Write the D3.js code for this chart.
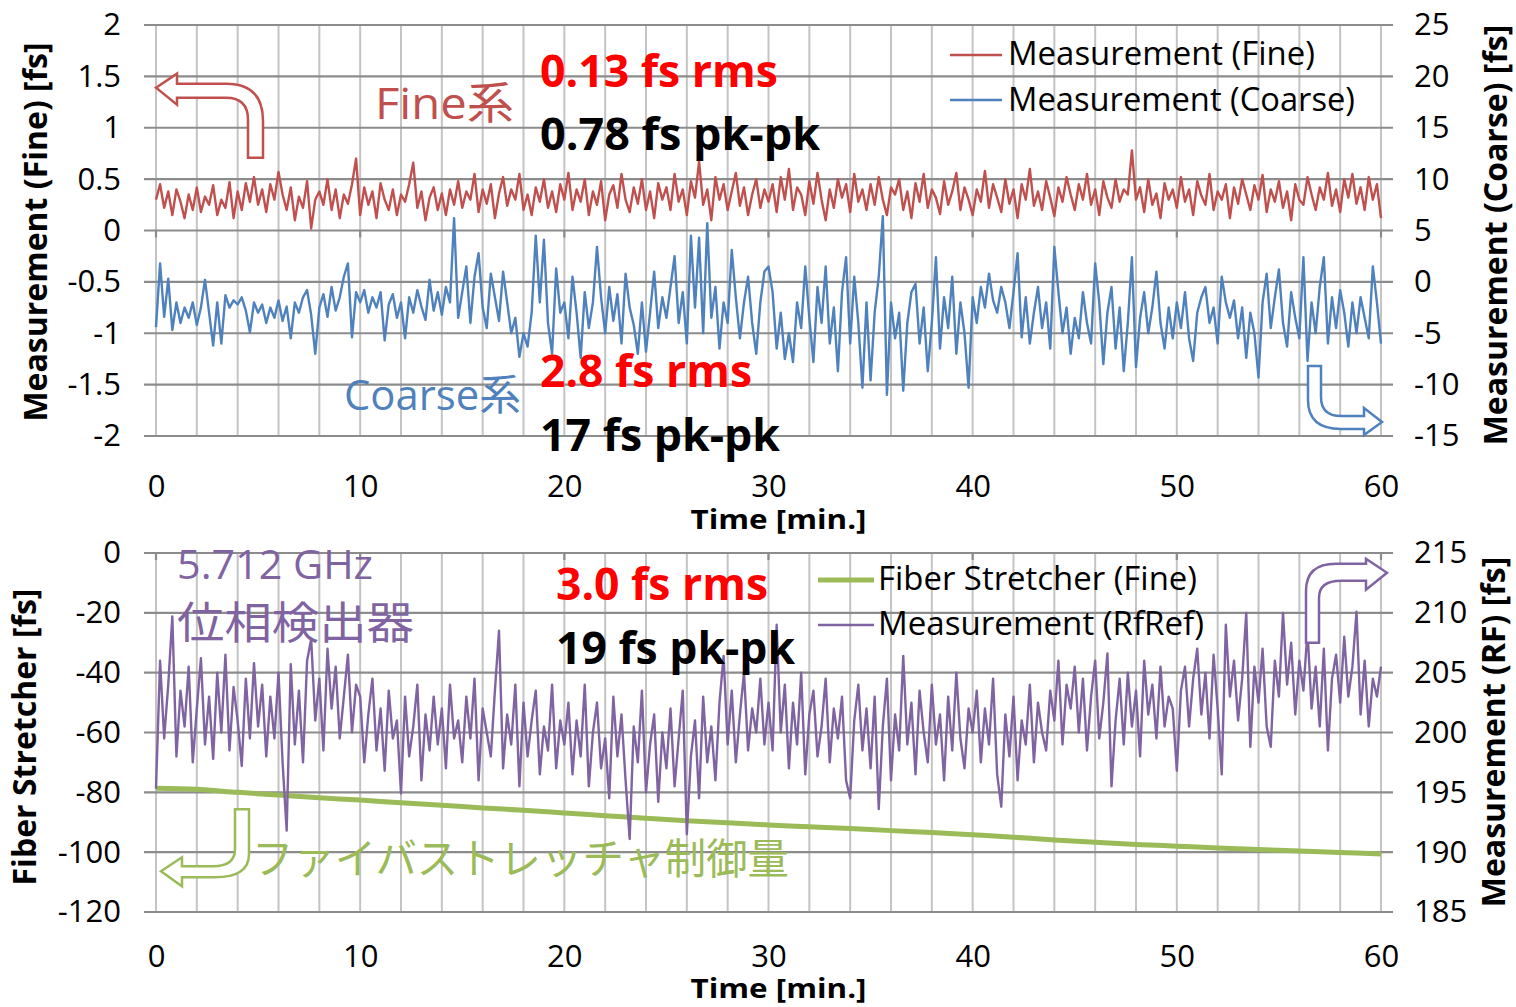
<!DOCTYPE html>
<html><head><meta charset="utf-8">
<script src="https://cdn.jsdelivr.net/npm/d3@7"></script>
<style>
html,body{margin:0;padding:0;background:#fff;}
svg{display:block;}
text{font-family:"Open Sans","Noto Sans CJK JP",sans-serif;}
.jp{font-family:"Noto Sans CJK JP","Open Sans",sans-serif;}
</style></head><body>
<svg id="c" width="1516" height="1007"></svg>
<script>
// ---------- data ----------
const timeTicks = [0,10,20,30,40,50,60];
const fineTicks = [2,1.5,1,0.5,0,-0.5,-1,-1.5,-2];
const coarseTicks = [25,20,15,10,5,0,-5,-10,-15];
const stretcherTicks = [0,-20,-40,-60,-80,-100,-120];
const rfTicks = [215,210,205,200,195,190,185];
const sampleStep = 0.2; // minutes between samples

const fine = [
0.30,0.45,0.22,0.38,0.15,0.40,0.28,0.12,0.35,0.20,0.42,0.18,0.33,0.25,0.44,0.15,0.30,0.22,0.47,0.12,0.38,0.20,0.46,0.28,0.52,
0.25,0.40,0.18,0.45,0.30,0.57,0.35,0.20,0.42,0.10,0.33,0.22,0.48,0.02,0.30,0.38,0.25,0.50,0.20,0.40,0.12,0.35,0.26,0.45,0.70,
0.15,0.42,0.25,0.38,0.12,0.46,0.30,0.20,0.40,0.15,0.35,0.28,0.45,0.66,0.22,0.38,0.10,0.32,0.42,0.20,0.36,0.15,0.40,0.25,0.48,
0.22,0.38,0.30,0.55,0.18,0.40,0.26,0.45,0.12,0.36,0.52,0.24,0.40,0.30,0.55,0.20,0.35,0.15,0.42,0.28,0.50,0.22,0.38,0.18,0.45,
0.30,0.56,0.20,0.40,0.28,0.50,0.15,0.38,0.25,0.48,0.10,0.35,0.44,0.22,0.55,0.30,0.18,0.42,0.26,0.50,0.20,0.38,0.12,0.46,0.30,
0.42,0.20,0.55,0.28,0.40,0.15,0.48,0.32,0.67,0.25,0.40,0.10,0.52,0.30,0.45,0.20,0.38,0.56,0.24,0.42,0.15,0.35,0.50,0.22,0.40,
0.28,0.45,0.18,0.52,0.30,0.60,0.20,0.42,0.35,0.15,0.48,0.26,0.56,0.30,0.10,0.40,0.22,0.50,0.32,0.45,0.18,0.55,0.28,0.40,0.20,
0.45,0.25,0.52,0.30,0.15,0.42,0.35,0.50,0.20,0.38,0.12,0.46,0.28,0.55,0.22,0.40,0.32,0.16,0.48,0.25,0.38,0.56,0.20,0.42,0.30,
0.15,0.40,0.28,0.58,0.22,0.45,0.32,0.18,0.50,0.26,0.40,0.12,0.45,0.30,0.60,0.24,0.38,0.20,0.48,0.32,0.14,0.42,0.28,0.52,0.35,
0.20,0.45,0.30,0.55,0.25,0.40,0.15,0.48,0.32,0.22,0.50,0.28,0.40,0.35,0.78,0.30,0.42,0.18,0.50,0.25,0.36,0.12,0.46,0.30,0.40,
0.22,0.52,0.28,0.40,0.15,0.48,0.34,0.25,0.55,0.20,0.38,0.30,0.45,0.12,0.42,0.26,0.50,0.35,0.20,0.44,0.30,0.54,0.18,0.40,0.28,
0.48,0.22,0.38,0.10,0.45,0.30,0.25,0.52,0.35,0.20,0.42,0.30,0.56,0.24,0.40,0.18,0.50,0.32,0.55,0.26,0.42,0.20,0.52,0.30,0.45,
0.12];

const coarse = [
-4.4,1.8,-3.4,0.3,-4.7,-2.0,-4.0,-2.5,-3.5,-2.0,-4.2,-2.5,0.2,-3.0,-6.2,-2.0,-6.0,-1.3,-2.5,-1.8,-2.2,-1.5,-2.8,-4.9,-2.0,
-3.0,-2.2,-4.0,-2.5,-3.5,-1.8,-3.8,-2.4,-5.5,-2.0,-3.0,-1.5,-0.8,-3.2,-7.0,-2.5,-1.2,-3.4,-0.5,-2.8,-1.5,0.5,1.8,-5.4,-1.0,
-2.0,-0.8,-3.0,-1.5,-2.5,-1.0,-5.7,-2.2,-1.2,-3.5,-2.0,-5.5,-1.5,-3.0,-0.8,-2.4,-3.7,0.2,-2.8,-1.0,-3.2,-0.5,-2.0,6.2,-3.5,
-1.0,1.5,-4.0,0.5,2.8,-2.5,-4.5,0.8,-1.5,-3.8,1.0,-2.0,-5.0,-3.5,-7.3,-5.0,-6.3,-3.0,4.5,-2.0,4.1,-4.0,-7.0,1.3,-3.0,
-2.0,-5.5,0.5,-3.0,-7.4,-1.0,-4.5,-2.0,3.4,-1.5,-5.0,-0.5,-3.8,-1.2,-6.0,0.8,-2.5,-4.2,-7.0,-2.0,-6.8,-3.0,1.0,-4.5,-1.5,
-3.5,-0.5,2.5,-4.0,-1.0,-6.0,4.5,-2.5,4.3,-5.0,5.7,-3.5,-0.5,-6.5,-2.0,-4.0,3.1,-1.5,-5.5,-2.0,0.5,-4.0,-7.0,-2.0,1.0,
1.5,-1.0,-6.5,-3.0,-7.5,-5.0,-7.8,-2.0,-4.5,1.5,-3.5,-7.8,-0.5,-4.0,1.5,-6.0,-2.5,-8.7,-1.0,2.4,-6.0,0.5,-4.0,-10.3,-2.0,
-9.6,-3.0,0.5,6.4,-11.0,-2.0,-5.5,-3.0,-10.6,-4.0,-1.0,-0.2,-6.0,-2.5,-8.7,-4.0,2.4,-6.5,-1.5,-4.5,0.5,-7.0,-2.0,-5.0,-10.3,
-1.5,-4.0,-0.5,-2.5,0.8,-1.8,-3.0,-0.5,-2.0,-4.5,-1.0,2.8,-5.4,-1.5,-6.0,-3.0,-0.5,-4.5,-2.0,-6.5,3.4,-1.0,-5.0,-2.5,-7.0,
-3.5,-5.5,-1.0,-4.0,-6.0,1.8,-2.0,-8.0,-3.0,-0.5,-6.5,-2.5,-8.7,-4.0,2.4,-8.3,-3.5,-1.0,-5.0,-2.5,1.0,-4.0,-6.5,-2.5,-5.5,
-2.0,-4.5,-1.0,-5.5,-7.7,-3.0,-1.5,-0.5,-4.0,-2.5,-6.0,0.5,-2.0,-3.5,-1.8,-5.5,-2.5,-7.4,-3.0,-5.0,-9.3,-2.0,0.8,-4.5,-1.5,
1.2,-4.0,-6.3,-1.0,-3.5,-5.5,2.4,-7.7,-2.0,-5.0,-0.5,2.4,-6.0,-1.5,-4.5,-0.8,-3.0,-6.3,-2.0,-5.0,-1.5,-3.5,-5.5,1.5,-2.0,
-6.0];

const rfRef = [
195.3,206.0,199.5,204.0,209.7,198.0,203.5,200.5,205.5,197.5,202.0,206.2,199.0,203.0,197.8,205.0,200.0,206.5,198.5,203.8,201.0,197.2,204.5,199.5,205.8,
200.5,204.0,198.0,203.0,199.5,205.0,197.5,191.8,205.7,199.0,203.5,197.5,206.0,207.8,201.0,204.5,198.5,207.0,202.0,205.5,199.5,203.0,206.5,200.0,204.0,
203.0,197.5,201.5,204.5,198.5,202.0,196.8,203.5,199.5,201.0,194.9,203.0,198.0,200.5,204.0,196.0,201.5,198.5,203.0,199.0,202.0,197.0,204.0,199.5,201.0,
197.5,203.0,199.5,204.5,196.0,202.0,200.0,198.0,203.5,208.5,197.0,201.5,199.0,204.0,195.5,202.5,198.0,201.0,203.5,196.5,200.5,198.5,204.0,197.0,201.0,
199.0,202.5,196.5,201.0,198.0,204.0,195.5,200.0,202.5,197.0,199.5,194.5,203.0,198.0,201.5,196.0,191.1,200.5,197.5,203.5,195.0,199.0,201.5,194.2,200.0,
197.0,202.0,195.5,199.5,203.5,191.5,198.0,201.0,194.5,203.0,197.5,200.5,196.0,202.5,206.4,199.0,203.5,197.5,201.5,205.0,198.5,202.0,200.0,204.5,199.0,
202.5,198.5,209.0,200.0,204.0,197.0,202.5,199.0,205.0,196.5,201.5,203.5,198.0,200.5,204.5,197.5,202.0,199.5,203.0,196.0,194.5,201.0,204.0,198.5,202.0,
197.0,203.0,193.6,200.5,204.5,196.0,201.5,198.5,206.4,199.0,202.5,196.5,203.5,200.0,197.5,204.0,199.0,201.5,196.0,203.0,198.5,205.0,199.5,197.0,202.0,
200.0,203.5,197.5,202.0,199.0,204.5,196.5,193.8,201.5,198.0,203.0,196.0,201.0,199.0,204.0,197.5,202.5,200.0,198.5,203.5,201.0,206.0,199.0,204.0,202.0,
205.5,200.0,204.5,198.5,203.0,206.0,199.5,202.5,206.6,195.5,201.0,204.5,199.0,205.0,200.5,203.5,198.0,206.0,201.5,204.0,199.5,205.5,200.5,203.0,202.0,
196.8,203.5,205.5,200.5,204.5,207.0,201.5,205.0,199.5,206.5,202.0,196.5,209.0,203.0,206.0,201.0,204.5,210.0,198.8,205.5,202.5,207.0,200.5,198.8,206.0,
203.0,210.0,204.0,207.5,201.5,206.0,203.5,208.5,202.0,205.5,200.5,207.0,198.5,204.5,206.5,202.5,208.0,203.0,205.5,210.1,201.5,206.0,200.5,204.5,203.0,
205.5];

const stretcherTimes = [0,2,4,6,8,10,12,14,16,18,20,22,24,26,28,30,32,34,36,38,40,42,44,46,48,50,52,54,56,58,60];
const stretcher = [-78.6,-79.0,-80.0,-80.9,-81.8,-82.6,-83.5,-84.3,-85.2,-86.0,-86.9,-87.8,-88.7,-89.5,-90.2,-90.9,-91.5,-92.1,-92.8,-93.4,-94.2,-95.0,-95.9,-96.7,-97.4,-98.0,-98.6,-99.1,-99.6,-100.1,-100.6];

// ---------- styles ----------
const C_RED = "#c0504d", C_BLUE = "#4f81bd", C_PURPLE = "#8064a2", C_GREEN = "#9bbb59";
const GRID_H = "#8c8c8c", GRID_V = "#c4c4c4";

const svg = d3.select("#c");

function txt(g, s, x, y, o) {
  const t = g.append("text").attr("x", x).attr("y", y).text(s)
    .attr("font-size", o.size).attr("font-weight", o.bold ? 700 : 400)
    .attr("fill", o.fill || "#000").attr("text-anchor", o.anchor || "start");
  if (o.cls) t.attr("class", o.cls);
  if (o.len) t.attr("textLength", o.len).attr("lengthAdjust", "spacingAndGlyphs");
  return t;
}
function vlabel(g, s, x, y, o) {
  g.append("text").attr("transform", `translate(${x},${y}) rotate(-90)`)
    .attr("text-anchor", "middle").attr("font-size", o.size).attr("font-weight", 700)
    .attr("fill", "#000").text(s);
}

function panel(cfg) {
  const g = svg.append("g");
  const x = d3.scaleLinear([0, 60], [cfg.x0, cfg.x1]);
  const yL = d3.scaleLinear(cfg.lDom, [cfg.yBot, cfg.yTop]);
  const yR = d3.scaleLinear(cfg.rDom, [cfg.yBot, cfg.yTop]);
  g.append("g").selectAll("line").data(d3.range(0, 61, 2)).join("line")
    .attr("x1", d => x(d)).attr("x2", d => x(d)).attr("y1", cfg.yTop).attr("y2", cfg.yBot)
    .attr("stroke", GRID_V).attr("stroke-width", 2);
  g.append("g").selectAll("line").data(cfg.lTicks).join("line")
    .attr("x1", cfg.x0 - 12).attr("x2", cfg.x1 + 12).attr("y1", d => yL(d)).attr("y2", d => yL(d))
    .attr("stroke", GRID_H).attr("stroke-width", 2.2);
  g.append("g").selectAll("line").data(timeTicks).join("line")
    .attr("x1", d => x(d)).attr("x2", d => x(d)).attr("y1", yL(cfg.cross)).attr("y2", yL(cfg.cross) + 7)
    .attr("stroke", GRID_H).attr("stroke-width", 2.2);
  const la = g.append("g").attr("transform", `translate(${cfg.x0},0)`)
    .call(d3.axisLeft(yL).tickValues(cfg.lTicks).tickSize(0).tickPadding(35).tickFormat(d => d));
  la.select(".domain").remove();
  la.selectAll("text").attr("font-size", 31).attr("font-family", '"Open Sans"').attr("fill", "#000");
  const ra = g.append("g").attr("transform", `translate(${cfg.x1},0)`)
    .call(d3.axisRight(yR).tickValues(cfg.rTicks).tickSize(0).tickPadding(33).tickFormat(d => d));
  ra.select(".domain").remove();
  ra.selectAll("text").attr("font-size", 31).attr("font-family", '"Open Sans"').attr("fill", "#000");
  const ba = g.append("g").attr("transform", `translate(0,${cfg.yBot})`)
    .call(d3.axisBottom(x).tickValues(timeTicks).tickSize(0).tickPadding(cfg.xPad).tickFormat(d => d));
  ba.select(".domain").remove();
  ba.selectAll("text").attr("font-size", 31).attr("font-family", '"Open Sans"').attr("fill", "#000");
  txt(g, "Time [min.]", x(30) + 10, cfg.titleY, { size: 26, bold: true, anchor: "middle", len: 176 });
  return { g, x, yL, yR };
}

// ---------- top panel ----------
const P1 = panel({ x0: 156, x1: 1381, yTop: 25, yBot: 436, lDom: [-2, 2], rDom: [-15, 25],
  lTicks: fineTicks, rTicks: coarseTicks, cross: 0, xPad: 39, titleY: 529 });
const lineF = d3.line().x((d, i) => P1.x(i * sampleStep)).y(d => P1.yL(d));
const lineC = d3.line().x((d, i) => P1.x(i * sampleStep)).y(d => P1.yR(d));
P1.g.append("path").attr("d", lineF(fine)).attr("fill", "none").attr("stroke", C_RED)
  .attr("stroke-width", 2.4).attr("stroke-linejoin", "round");
P1.g.append("path").attr("d", lineC(coarse)).attr("fill", "none").attr("stroke", C_BLUE)
  .attr("stroke-width", 2.4).attr("stroke-linejoin", "round");

// ---------- bottom panel ----------
const P2 = panel({ x0: 156, x1: 1381, yTop: 553, yBot: 912, lDom: [-120, 0], rDom: [185, 215],
  lTicks: stretcherTicks, rTicks: rfTicks, cross: 0, xPad: 33, titleY: 998 });
const lineS = d3.line().curve(d3.curveMonotoneX).x((d, i) => P2.x(stretcherTimes[i])).y(d => P2.yL(d));
const lineR = d3.line().x((d, i) => P2.x(i * sampleStep)).y(d => P2.yR(d));
P2.g.append("path").attr("d", lineS(stretcher)).attr("fill", "none").attr("stroke", C_GREEN)
  .attr("stroke-width", 5).attr("stroke-linejoin", "round");
P2.g.append("path").attr("d", lineR(rfRef)).attr("fill", "none").attr("stroke", C_PURPLE)
  .attr("stroke-width", 2.4).attr("stroke-linejoin", "round");

// ---------- arrows (anchored to scale positions) ----------
function arrow(ax, ay, d, color) {
  svg.append("path").attr("transform", `translate(${ax},${ay})`).attr("d", d)
    .attr("fill", "#fff").attr("stroke", color).attr("stroke-width", 2.5).attr("stroke-linejoin", "miter");
}
arrow(P1.x(0), P1.yL(1.39), "M0,0 L21,-14 L21,-4 L70,-4 Q107,-4 107,33 L107,70 L92,70 L92,32 Q92,10 70,10 L21,10 L21,17 Z", C_RED);
arrow(P1.x(60) + 1, P1.yR(-13.64), "M-74,-56 L-61,-56 L-61,-25 Q-61,-6 -41,-6 L-18,-6 L-18,-14 L0,0 L-18,13 L-18,7 L-41,7 Q-74,7 -74,-22 Z", C_BLUE);
arrow(P2.x(60) + 6, P2.yR(213.35), "M-81,70 L-68,70 L-68,25 Q-68,8 -46,8 L-21,8 L-21,17 L0,0 L-21,-14 L-21,-9 L-51,-9 Q-81,-9 -81,18 Z", C_PURPLE);
arrow(P2.x(0) + 5, P2.yL(-106.4), "M74,-62 L88,-62 L88,-17 Q88,6 54,6 L21,6 L21,15 L0,0 L21,-14 L21,-5 L52,-5 Q74,-5 74,-22 Z", C_GREEN);

// ---------- legends ----------
const L = svg.append("g");
L.append("line").attr("x1", 950).attr("x2", 1002).attr("y1", 55).attr("y2", 55).attr("stroke", C_RED).attr("stroke-width", 2.4);
L.append("line").attr("x1", 950).attr("x2", 1002).attr("y1", 100).attr("y2", 100).attr("stroke", C_BLUE).attr("stroke-width", 2.4);
txt(L, "Measurement (Fine)", 1008, 65, { size: 32, len: 307 });
txt(L, "Measurement (Coarse)", 1008, 111, { size: 32, len: 347 });
L.append("line").attr("x1", 818).attr("x2", 874).attr("y1", 580).attr("y2", 580).attr("stroke", C_GREEN).attr("stroke-width", 5);
L.append("line").attr("x1", 818).attr("x2", 874).attr("y1", 625).attr("y2", 625).attr("stroke", C_PURPLE).attr("stroke-width", 2.4);
txt(L, "Fiber Stretcher (Fine)", 878, 590, { size: 32, len: 319 });
txt(L, "Measurement (RfRef)", 878, 635, { size: 32, len: 326 });

// ---------- annotations ----------
const A = svg.append("g");
txt(A, "Fine系", 375, 119, { size: 44, fill: C_RED, len: 139 });
txt(A, "0.13 fs rms", 540, 87, { size: 45, bold: true, fill: "#ff0000", len: 238 });
txt(A, "0.78 fs pk-pk", 540, 150, { size: 45, bold: true, len: 280 });
txt(A, "Coarse系", 344, 410, { size: 42, fill: C_BLUE, len: 177 });
txt(A, "2.8 fs rms", 540, 387, { size: 45, bold: true, fill: "#ff0000", len: 212 });
txt(A, "17 fs pk-pk", 540, 451, { size: 45, bold: true, len: 240 });
txt(A, "5.712 GHz", 177, 579, { size: 40, fill: C_PURPLE, len: 196 });
txt(A, "位相検出器", 177, 639, { size: 44, fill: C_PURPLE, cls: "jp", len: 237 });
txt(A, "3.0 fs rms", 556, 600, { size: 45, bold: true, fill: "#ff0000", len: 212 });
txt(A, "19 fs pk-pk", 556, 664, { size: 45, bold: true, len: 239 });
txt(A, "ファイバストレッチャ制御量", 252, 874, { size: 42, fill: C_GREEN, cls: "jp", len: 537 });

// ---------- axis titles ----------
vlabel(A, "Measurement (Fine) [fs]", 47, 232, { size: 32 });
vlabel(A, "Measurement (Coarse) [fs]", 1507, 235, { size: 32 });
vlabel(A, "Fiber Stretcher [fs]", 36, 737, { size: 32 });
vlabel(A, "Measurement (RF) [fs]", 1505, 732, { size: 32 });
</script>
</body></html>
